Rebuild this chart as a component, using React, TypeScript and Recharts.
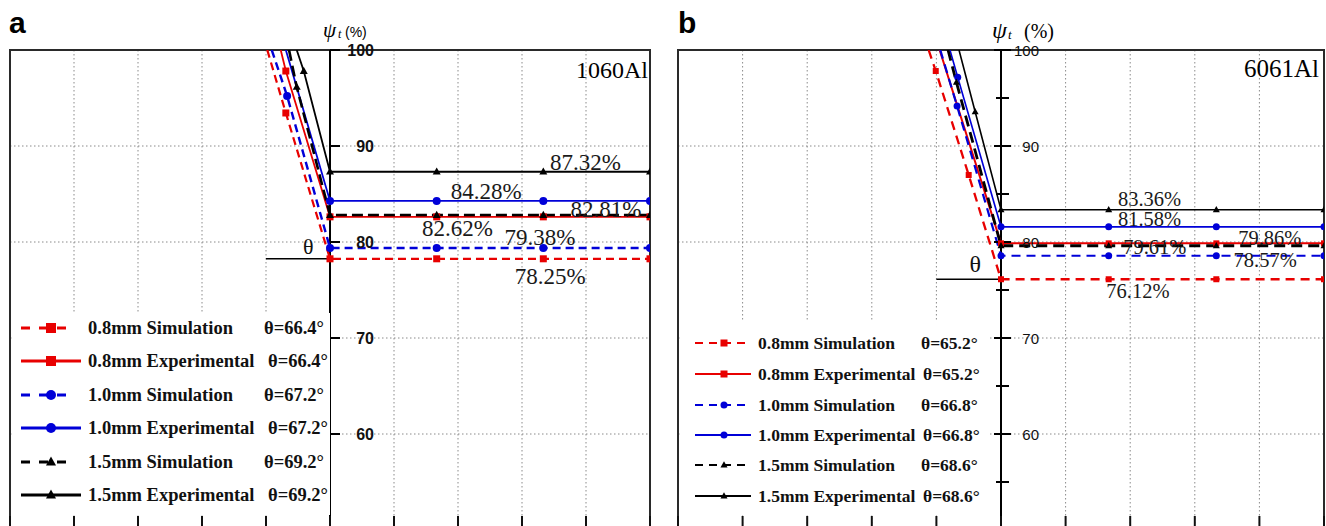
import React from 'react';
import { LineChart, Line, XAxis, YAxis, CartesianGrid, ReferenceLine, ReferenceDot, ReferenceArea } from 'recharts';

type Pt = { x: number; y: number };

// ---------- shared axis values ----------
const xGridValues = [-5, -4, -3, -2, -1, 0, 1, 2, 3, 4, 5];
const yGridValues = [60, 70, 80, 90];
const yTickMajor = [100, 90, 80, 70, 60];
const yTickMinorB = [95, 85, 75, 65, 55];

// ---------- panel a : 1060Al ----------
const a08Sim: Pt[] = [{ x: -0.98, y: 100 }, { x: -0.69, y: 93.44 }, { x: 0, y: 78.25 }, { x: 1.667, y: 78.25 }, { x: 3.333, y: 78.25 }, { x: 5, y: 78.25 }];
const a08Exp: Pt[] = [{ x: -0.77, y: 100 }, { x: -0.69, y: 97.81 }, { x: 0, y: 82.62 }, { x: 1.667, y: 82.62 }, { x: 3.333, y: 82.62 }, { x: 5, y: 82.62 }];
const a10Sim: Pt[] = [{ x: -0.91, y: 100 }, { x: -0.67, y: 95.21 }, { x: 0, y: 79.38 }, { x: 1.667, y: 79.38 }, { x: 3.333, y: 79.38 }, { x: 5, y: 79.38 }];
const a10Exp: Pt[] = [{ x: -0.69, y: 100 }, { x: 0, y: 84.28 }, { x: 1.667, y: 84.28 }, { x: 3.333, y: 84.28 }, { x: 5, y: 84.28 }];
const a15Sim: Pt[] = [{ x: -0.64, y: 100 }, { x: -0.52, y: 96.15 }, { x: 0, y: 82.81 }, { x: 1.667, y: 82.81 }, { x: 3.333, y: 82.81 }, { x: 5, y: 82.81 }];
const a15Exp: Pt[] = [{ x: -0.52, y: 100 }, { x: -0.41, y: 97.81 }, { x: 0, y: 87.32 }, { x: 1.667, y: 87.32 }, { x: 3.333, y: 87.32 }, { x: 5, y: 87.32 }];
const aThetas = ['66.4', '66.4', '67.2', '67.2', '69.2', '69.2'];

// ---------- panel b : 6061Al ----------
const b08Sim: Pt[] = [{ x: -1.12, y: 100 }, { x: -1.01, y: 97.81 }, { x: -0.5, y: 86.98 }, { x: 0, y: 76.12 }, { x: 1.667, y: 76.12 }, { x: 3.333, y: 76.12 }, { x: 5, y: 76.12 }];
const b08Exp: Pt[] = [{ x: -0.95, y: 100 }, { x: 0, y: 79.86 }, { x: 1.667, y: 79.86 }, { x: 3.333, y: 79.86 }, { x: 5, y: 79.86 }];
const b10Sim: Pt[] = [{ x: -0.94, y: 100 }, { x: -0.68, y: 94.17 }, { x: 0, y: 78.57 }, { x: 1.667, y: 78.57 }, { x: 3.333, y: 78.57 }, { x: 5, y: 78.57 }];
const b10Exp: Pt[] = [{ x: -0.79, y: 100 }, { x: -0.67, y: 97.16 }, { x: 0, y: 81.58 }, { x: 1.667, y: 81.58 }, { x: 3.333, y: 81.58 }, { x: 5, y: 81.58 }];
const b15Sim: Pt[] = [{ x: -0.82, y: 100 }, { x: -0.69, y: 96.64 }, { x: 0, y: 79.61 }, { x: 1.667, y: 79.61 }, { x: 3.333, y: 79.61 }, { x: 5, y: 79.61 }];
const b15Exp: Pt[] = [{ x: -0.65, y: 100 }, { x: -0.4, y: 93.57 }, { x: 0, y: 83.36 }, { x: 1.667, y: 83.36 }, { x: 3.333, y: 83.36 }, { x: 5, y: 83.36 }];
const bThetas = ['65.2', '65.2', '66.8', '66.8', '68.6', '68.6'];

const seriesNames = ['0.8mm Simulation', '0.8mm Experimental', '1.0mm Simulation', '1.0mm Experimental', '1.5mm Simulation', '1.5mm Experimental'];

const SERIF = '"Liberation Serif", "Times New Roman", serif';
const SANS = '"Liberation Sans", Arial, sans-serif';
const RED = '#e80000';
const BLUE = '#0000d8';
const BLACK = '#000000';

type Marker = 'square' | 'circle' | 'triangle';
type Style = { color: string; dash?: string; width: number; marker: Marker; size: number };

const lastY = (d: Pt[]) => d[d.length - 1].y;
const pct = (d: Pt[]) => `${lastY(d).toFixed(2)}%`;

function markerEl(shape: Marker, cx: number, cy: number, size: number, color: string, key?: any) {
  if (shape === 'square') return <rect key={key} x={cx - size / 2} y={cy - size / 2} width={size} height={size} fill={color} />;
  if (shape === 'circle') return <circle key={key} cx={cx} cy={cy} r={size / 2} fill={color} />;
  const h = size * 0.9;
  return <polygon key={key} points={`${cx},${cy - h * 0.6} ${cx - size / 2},${cy + h * 0.4} ${cx + size / 2},${cy + h * 0.4}`} fill={color} />;
}

const makeDot = (st: Style) => (props: any) => {
  const { cx, cy, payload, index } = props;
  if (cx == null || cy == null || !payload || payload.y >= 100) return <g key={`d${index}`} />;
  return markerEl(st.marker, cx, cy, st.size, st.color, `d${index}`);
};

type PanelCfg = {
  left: number;
  width: number;
  marginRight: number;
  data: Pt[][];
  styles: Style[];
  thetas: string[];
  labels: { s: number; x: number; y: number }[];
  labelFont: number;
  thetaLineY: number;
  thetaPos: { x: number; y: number; size: number };
  variant: 'a' | 'b';
  legend: { left: number; top: number; w: number; h: number; rows: number[]; sampleX: number; sampleW: number; markerX: number; textX: number; thetaX: number[]; font: number; dashes: string[] };
  texts: React.ReactNode;
};

const aStyles: Style[] = [
  { color: RED, dash: '8 5', width: 2.2, marker: 'square', size: 7 },
  { color: RED, width: 1.8, marker: 'square', size: 7 },
  { color: BLUE, dash: '8 5', width: 2.4, marker: 'circle', size: 8 },
  { color: BLUE, width: 1.8, marker: 'circle', size: 8 },
  { color: BLACK, dash: '11 5', width: 2.6, marker: 'triangle', size: 8 },
  { color: BLACK, width: 1.8, marker: 'triangle', size: 8 },
];
const bStyles: Style[] = [
  { color: RED, dash: '9 6', width: 2.3, marker: 'square', size: 6 },
  { color: RED, width: 2, marker: 'square', size: 6 },
  { color: BLUE, dash: '9 6', width: 2.2, marker: 'circle', size: 7 },
  { color: BLUE, width: 1.6, marker: 'circle', size: 7 },
  { color: BLACK, dash: '11 6', width: 2.8, marker: 'triangle', size: 7 },
  { color: BLACK, width: 1.6, marker: 'triangle', size: 7 },
];

function Panel({ cfg }: { cfg: PanelCfg }) {
  const isA = cfg.variant === 'a';
  const L = cfg.legend;
  return (
    <div style={{ position: 'absolute', left: cfg.left, top: 0, width: cfg.width, height: 560 }}>
      <LineChart width={cfg.width} height={560} margin={{ top: 50, left: 10, right: cfg.marginRight, bottom: 30 }}>
        <CartesianGrid
          stroke="#8a8a8a"
          strokeDasharray="1.5 2.5"
          horizontalValues={yGridValues}
          verticalValues={xGridValues}
        />
        <XAxis type="number" dataKey="x" domain={[-5, 5]} allowDataOverflow ticks={xGridValues} hide />
        <YAxis type="number" domain={[50, 100]} allowDataOverflow hide ticks={yGridValues} />
        <ReferenceArea x1={-5} x2={5} y1={50} y2={100} fill="none" stroke="#2a2a2a" strokeWidth={2} ifOverflow="visible" />
        <ReferenceLine x={0} stroke="#000" strokeWidth={2} />
        {xGridValues.map((v) => (
          <ReferenceDot
            key={`bx${v}`}
            x={v}
            y={50}
            r={0}
            ifOverflow="visible"
            shape={(p: any) => <line x1={p.cx} x2={p.cx} y1={p.cy} y2={p.cy - 14} stroke="#111" strokeWidth={2} />}
          />
        ))}
        {yTickMajor.map((v) => (
          <ReferenceDot
            key={`t${v}`}
            x={0}
            y={v}
            r={0}
            ifOverflow="visible"
            shape={(p: any) => (
              <g>
                <line x1={p.cx + (isA ? 0 : -7)} x2={p.cx + 10} y1={p.cy} y2={p.cy} stroke="#000" strokeWidth={2} />
                <text
                  x={p.cx + (isA ? 44 : 38)}
                  y={p.cy + 5.5}
                  textAnchor="end"
                  fontFamily={SANS}
                  fontSize={isA ? 16 : 15}
                  fontWeight={isA ? 'bold' : 'normal'}
                  fill="#111"
                >
                  {v}
                </text>
              </g>
            )}
          />
        ))}
        {!isA &&
          yTickMinorB.map((v) => (
            <ReferenceDot
              key={`m${v}`}
              x={0}
              y={v}
              r={0}
              ifOverflow="visible"
              shape={(p: any) => <line x1={p.cx - 5} x2={p.cx + 8} y1={p.cy} y2={p.cy} stroke="#000" strokeWidth={2} />}
            />
          ))}
        <ReferenceLine
          segment={[{ x: -1, y: cfg.thetaLineY }, { x: 0, y: cfg.thetaLineY }]}
          stroke="#000"
          strokeWidth={1.5}
        />
        {cfg.data.map((d, i) => {
          const st = cfg.styles[i];
          return (
            <Line
              key={`s${i}`}
              data={d}
              dataKey="y"
              type="linear"
              stroke={st.color}
              strokeWidth={st.width}
              strokeDasharray={st.dash}
              dot={makeDot(st)}
              activeDot={false}
              isAnimationActive={false}
            />
          );
        })}
        {cfg.labels.map((lb, i) => (
          <ReferenceDot
            key={`l${i}`}
            x={lb.x}
            y={lb.y}
            r={0}
            ifOverflow="visible"
            shape={(p: any) => (
              <text x={p.cx} y={p.cy + cfg.labelFont * 0.34} textAnchor="middle" fontFamily={SERIF} fontSize={cfg.labelFont} fill="#1a1a1a">
                {pct(cfg.data[lb.s])}
              </text>
            )}
          />
        ))}
        <ReferenceDot
          x={cfg.thetaPos.x}
          y={cfg.thetaPos.y}
          r={0}
          ifOverflow="visible"
          shape={(p: any) => (
            <text x={p.cx} y={p.cy + cfg.thetaPos.size * 0.34} textAnchor="middle" fontFamily={SERIF} fontSize={cfg.thetaPos.size} fill="#111">
              θ
            </text>
          )}
        />
      </LineChart>
      {/* legend */}
      <div style={{ position: 'absolute', left: L.left, top: L.top, width: L.w, height: L.h, background: '#fff' }}>
        <svg width={L.w} height={L.h} style={{ position: 'absolute', left: 0, top: 0 }}>
          {seriesNames.map((n, i) => {
            const st = cfg.styles[i];
            const cy = L.rows[i] - L.top;
            const x0 = L.sampleX - L.left;
            const isSim = i % 2 === 0;
            const w = isA && isSim ? L.sampleW - 11 : L.sampleW;
            return (
              <g key={`lg${i}`}>
                <line x1={x0} x2={x0 + w} y1={cy} y2={cy} stroke={st.color} strokeWidth={isA ? 3 : 2.2} strokeDasharray={isSim ? L.dashes[i] : undefined} />
                {markerEl(st.marker, L.markerX - L.left, cy, isA ? 10 : 7, st.color)}
                <text x={L.textX - L.left} y={cy + L.font * 0.33} fontFamily={SERIF} fontWeight="bold" fontSize={L.font} fill="#111">
                  {n}
                </text>
                <text x={L.thetaX[i] - L.left} y={cy + L.font * 0.33} fontFamily={SERIF} fontWeight="bold" fontSize={L.font} fill="#111">
                  {`θ=${cfg.thetas[i]}°`}
                </text>
              </g>
            );
          })}
        </svg>
      </div>
      <svg width={cfg.width} height={100} style={{ position: 'absolute', left: 0, top: 0, pointerEvents: 'none' }}>
        {cfg.texts}
      </svg>
    </div>
  );
}

const cfgA: PanelCfg = {
  left: 0,
  width: 663,
  marginRight: 13,
  data: [a08Sim, a08Exp, a10Sim, a10Exp, a15Sim, a15Exp],
  styles: aStyles,
  thetas: aThetas,
  labels: [
    { s: 5, x: 3.99, y: 88.33 },
    { s: 3, x: 2.44, y: 85.25 },
    { s: 4, x: 4.31, y: 83.44 },
    { s: 1, x: 1.99, y: 81.46 },
    { s: 2, x: 3.28, y: 80.52 },
    { s: 0, x: 3.44, y: 76.46 },
  ],
  labelFont: 23,
  thetaLineY: 78.25,
  thetaPos: { x: -0.34, y: 79.5, size: 22 },
  variant: 'a',
  legend: {
    left: 12, top: 313, w: 318, h: 202,
    rows: [328, 361, 395, 428, 462, 495],
    sampleX: 21, sampleW: 60, markerX: 51, textX: 88,
    thetaX: [264, 268, 264, 268, 264, 268],
    font: 18.5,
    dashes: ['9 9', '', '9 9', '', '9 9', ''],
  },
  texts: (
    <g>
      <text x={9} y={33} fontFamily={SANS} fontWeight="bold" fontSize={30} fill="#000">a</text>
      <text x={323} y={37} fontFamily={SERIF} fontStyle="italic" fontSize={21} fill="#000">ψ</text>
      <text x={338} y={38} fontFamily={SERIF} fontStyle="italic" fontSize={12} fill="#000">t</text>
      <text x={345} y={37} fontFamily={SANS} fontSize={14} fill="#000">(%)</text>
      <text x={648} y={78} textAnchor="end" fontFamily={SERIF} fontSize={24} fill="#000">1060Al</text>
    </g>
  ),
};

const cfgB: PanelCfg = {
  left: 668,
  width: 658,
  marginRight: 2,
  data: [b08Sim, b08Exp, b10Sim, b10Exp, b15Sim, b15Exp],
  styles: bStyles,
  thetas: bThetas,
  labels: [
    { s: 5, x: 2.3, y: 84.48 },
    { s: 3, x: 2.3, y: 82.4 },
    { s: 1, x: 4.16, y: 80.45 },
    { s: 4, x: 2.38, y: 79.45 },
    { s: 2, x: 4.09, y: 78.1 },
    { s: 0, x: 2.12, y: 74.9 },
  ],
  labelFont: 20.5,
  thetaLineY: 76.12,
  thetaPos: { x: -0.4, y: 77.7, size: 24 },
  variant: 'b',
  legend: {
    left: 12, top: 322, w: 310, h: 193,
    rows: [343, 374, 405, 435, 465, 496],
    sampleX: 27, sampleW: 56, markerX: 56, textX: 90,
    thetaX: [253, 255, 253, 255, 253, 255],
    font: 17.5,
    dashes: ['8 6', '', '8 6', '', '8 6', ''],
  },
  texts: (
    <g>
      <text x={10} y={33} fontFamily={SANS} fontWeight="bold" fontSize={30} fill="#000">b</text>
      <text x={324} y={38} fontFamily={SERIF} fontStyle="italic" fontSize={24} fill="#000">ψ</text>
      <text x={340} y={39} fontFamily={SERIF} fontStyle="italic" fontSize={13} fill="#000">t</text>
      <text x={356} y={38} fontFamily={SERIF} fontSize={20} fill="#000">(%)</text>
      <text x={651} y={77} textAnchor="end" fontFamily={SERIF} fontSize={25} fill="#000">6061Al</text>
    </g>
  ),
};

export default function App() {
  return (
    <div style={{ position: 'absolute', left: 0, top: 0, width: 1326, height: 526, overflow: 'hidden', background: '#fff' }}>
      <Panel cfg={cfgA} />
      <Panel cfg={cfgB} />
    </div>
  );
}
